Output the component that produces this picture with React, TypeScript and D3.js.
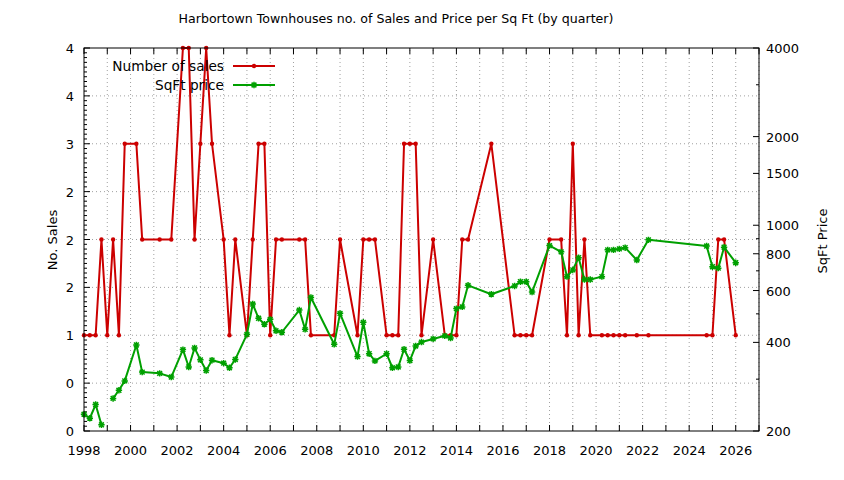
import * as d3 from "d3";

// quarter (decimal year), number of sales, price per sq ft (null = no price)
const quarters = [
  1998.0, 1998.25, 1998.5, 1998.75, 1999.0, 1999.25, 1999.5, 1999.75, 2000.25, 2000.5,
  2001.25, 2001.75, 2002.25, 2002.5, 2002.75, 2003.0, 2003.25, 2003.5, 2004.0, 2004.25,
  2004.5, 2005.0, 2005.25, 2005.5, 2005.75, 2006.0, 2006.25, 2006.5, 2007.25, 2007.5,
  2007.75, 2008.75, 2009.0, 2009.75, 2010.0, 2010.25, 2010.5, 2011.0, 2011.25, 2011.5,
  2011.75, 2012.0, 2012.25, 2012.5, 2013.0, 2013.5, 2013.75, 2014.0, 2014.25, 2014.5,
  2015.5, 2016.5, 2016.75, 2017.0, 2017.25, 2018.0, 2018.5, 2018.75, 2019.0, 2019.25,
  2019.5, 2019.75, 2020.25, 2020.5, 2020.75, 2021.0, 2021.25, 2021.75, 2022.25, 2024.75,
  2025.0, 2025.25, 2025.5, 2026.0,
];
const sales = [
  1, 1, 1, 2, 1, 2, 1, 3, 3, 2,
  2, 2, 4, 4, 2, 3, 4, 3, 2, 1,
  2, 1, 2, 3, 3, 1, 2, 2, 2, 2,
  1, 1, 2, 1, 2, 2, 2, 1, 1, 1,
  3, 3, 3, 1, 2, 1, 1, 1, 2, 2,
  3, 1, 1, 1, 1, 2, 2, 1, 3, 1,
  2, 1, 1, 1, 1, 1, 1, 1, 1, 1,
  1, 2, 2, 1,
];
const sqftPrice: (number | null)[] = [
  228, 221, 246, 210, null, 258, 275, 296, 392, 317,
  314, 305, 378, 330, 383, 349, 321, 348, 340, 328,
  350, 426, 540, 483, 461, 479, 438, 433, 515, 443,
  568, 394, 502, 358, 468, 366, 346, 366, 328, 330,
  379, 347, 389, 401, 411, 421, 414, 521, 528, 625,
  583, 622, 643, 643, 593, 853, 812, 669, 705, 776,
  654, 654, 669, 825, 825, 831, 839, 762, 892, 850,
  723, 715, 842, 746,
];

const xLabels = [1998, 2000, 2002, 2004, 2006, 2008, 2010, 2012, 2014, 2016, 2018, 2020, 2022, 2024, 2026];
const y2Major = [200, 400, 600, 800, 1000, 1500, 2000, 4000];
const y2Minor = [300, 500, 700, 900, 3000];

const W = 844;
const H = 480;
const left = 84;
const right = 759;
const top = 48;
const bottom = 431;
const RED = "#cc0000";
const GREEN = "#00a000";
const FONT = "'DejaVu Sans', sans-serif";

const x = d3.scaleLinear().domain([1998, 2027]).range([left, right]);
const y = d3.scaleLinear().domain([0, 4]).range([bottom, top]);
const y2 = d3.scaleLog().domain([200, 4000]).range([bottom, top]);

const starPath = "M-3.2,0H3.2M0,-3.2V3.2M-2.4,-2.4L2.4,2.4M-2.4,2.4L2.4,-2.4";

// %.0f style: halves go to the even neighbour (0.5 -> 0, 1.5 -> 2, 2.5 -> 2)
function fmt0(v: number) {
  const f = Math.floor(v);
  const r = v - f;
  if (Math.abs(r - 0.5) < 1e-9) return String(f % 2 === 0 ? f : f + 1);
  return String(Math.round(v));
}

export default function App() {
  const rows = quarters.map((q, i) => ({ q, n: sales[i], p: sqftPrice[i] }));
  const years = d3.range(1998, 2028);
  const yMajor = d3.range(0, 4.001, 0.5);
  const yMinor = d3.range(0, 4.001, 0.05);

  const salesLine = d3
    .line<{ q: number; n: number }>()
    .x((d) => x(d.q))
    .y((d) => y(d.n));
  const priceLine = d3
    .line<{ q: number; p: number | null }>()
    .defined((d) => d.p != null)
    .x((d) => x(d.q))
    .y((d) => y2(d.p as number));

  return (
    <svg
      width={W}
      height={H}
      style={{ position: "absolute", left: 0, top: 0, background: "#fff" }}
      fontFamily={FONT}
    >
      <rect width={W} height={H} fill="#fff" />
      <text x={396} y={23} fontSize={12.6} textAnchor="middle">
        Harbortown Townhouses no. of Sales and Price per Sq Ft (by quarter)
      </text>

      {/* grid */}
      <g stroke="#a0a0a0" strokeWidth={1} strokeDasharray="1,3">
        {years.slice(1).map((yr) => (
          <line key={"gx" + yr} x1={x(yr)} x2={x(yr)} y1={bottom} y2={top} />
        ))}
        {yMajor.slice(1, -1).map((v) => (
          <line key={"gy" + v} x1={left} x2={right} y1={y(v)} y2={y(v)} />
        ))}
      </g>

      {/* ticks */}
      <g stroke="#000" strokeWidth={1}>
        {years.map((yr) => (
          <g key={"tx" + yr}>
            <line x1={x(yr)} x2={x(yr)} y1={bottom} y2={bottom - 6} />
            <line x1={x(yr)} x2={x(yr)} y1={top} y2={top + 6} />
          </g>
        ))}
        {yMinor.map((v, i) => (
          <line key={"ty" + i} x1={left} x2={left + (i % 10 === 0 ? 6 : 3)} y1={y(v)} y2={y(v)} />
        ))}
        {y2Major.map((v) => (
          <line key={"ty2" + v} x1={right} x2={right - 6} y1={y2(v)} y2={y2(v)} />
        ))}
        {y2Minor.map((v) => (
          <line key={"ty2m" + v} x1={right} x2={right - 3} y1={y2(v)} y2={y2(v)} />
        ))}
      </g>

      {/* tick labels */}
      <g fontSize={13} fill="#000">
        {xLabels.map((yr) => (
          <text key={"lx" + yr} x={x(yr)} y={bottom + 24} textAnchor="middle">
            {yr}
          </text>
        ))}
        {yMajor.map((v) => (
          <text key={"ly" + v} x={left - 10} y={y(v) + 5} textAnchor="end">
            {fmt0(v)}
          </text>
        ))}
        {y2Major.map((v) => (
          <text key={"ly2" + v} x={right + 7} y={y2(v) + 5} textAnchor="start">
            {v}
          </text>
        ))}
      </g>

      <text transform={`translate(57,240) rotate(-90)`} fontSize={13} textAnchor="middle">
        No. Sales
      </text>
      <text transform={`translate(827,241) rotate(-90)`} fontSize={13} textAnchor="middle">
        SqFt Price
      </text>

      {/* sales series */}
      <path d={salesLine(rows) || ""} fill="none" stroke={RED} strokeWidth={2} strokeLinejoin="round" />
      {rows.map((d, i) => (
        <circle key={"s" + i} cx={x(d.q)} cy={y(d.n)} r={2.2} fill={RED} />
      ))}

      {/* price series */}
      <path d={priceLine(rows) || ""} fill="none" stroke={GREEN} strokeWidth={2} strokeLinejoin="round" />
      {rows
        .filter((d) => d.p != null)
        .map((d, i) => (
          <path
            key={"p" + i}
            d={starPath}
            transform={`translate(${x(d.q)},${y2(d.p as number)})`}
            stroke={GREEN}
            strokeWidth={1.5}
            fill="none"
          />
        ))}

      {/* legend */}
      <g fontSize={13.7}>
        <text x={224} y={71} textAnchor="end">Number of sales</text>
        <line x1={233} x2={275} y1={66} y2={66} stroke={RED} strokeWidth={2} />
        <circle cx={254} cy={66} r={2.2} fill={RED} />
        <text x={224} y={90} textAnchor="end">SqFt price</text>
        <line x1={233} x2={275} y1={85} y2={85} stroke={GREEN} strokeWidth={2} />
        <path d={starPath} transform="translate(254,85)" stroke={GREEN} strokeWidth={1.5} fill="none" />
      </g>

      {/* frame */}
      <rect x={left} y={top} width={right - left} height={bottom - top} fill="none" stroke="#000" strokeWidth={1} />
    </svg>
  );
}
